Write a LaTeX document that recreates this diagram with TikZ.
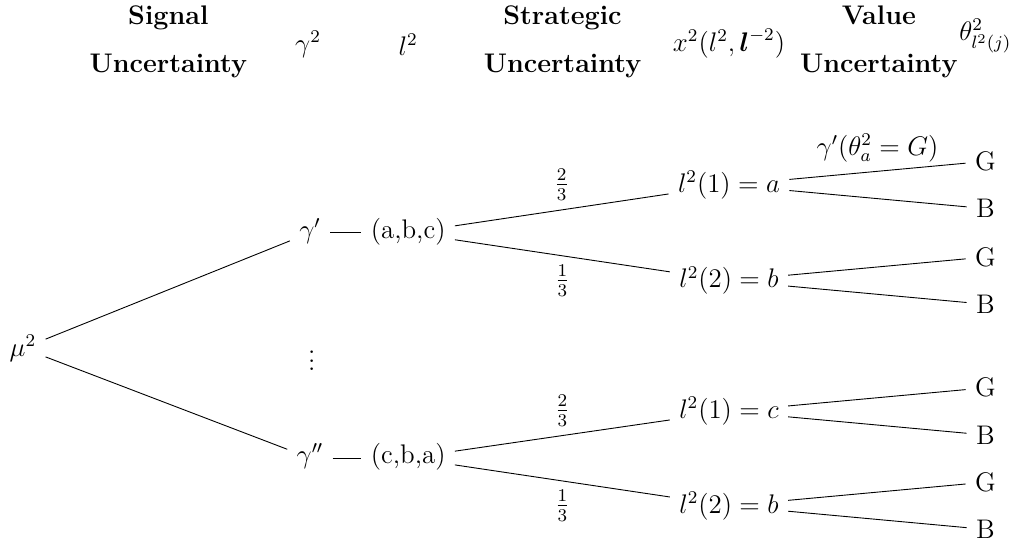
\documentclass[12pt,tikz,border=0pt]{standalone}
\usepackage{amsmath,amssymb}
\usetikzlibrary{positioning}

\begin{document}
\begin{tikzpicture}[
  hdr/.style={font=\bfseries, align=center},
  pair/.style={text height=8pt, text depth=3pt}]
\useasboundingbox (0,0) rectangle (15.93,-8.56);
% Column headers
\node[hdr] (sig) at (2.64,-0.66) {Signal\\[7pt]Uncertainty};
\node (gam) at (4.83,-0.70) {$\gamma^2$};
\node (ell) at (6.40,-0.70) {$l^2$};
\node[hdr] (strat) at (8.82,-0.66) {Strategic\\[7pt]Uncertainty};
\node (act) at (11.43,-0.68) {$x^2(l^2,\boldsymbol{l}^{-2})$};
\node[hdr] (val) at (13.78,-0.66) {Value\\[7pt]Uncertainty};
\node (thet) at (15.45,-0.57) {$\theta^2_{l^2(j)}$};
% Root and signals
\node (mu) at (0.36,-5.46) {$\mu^2$};
\node[pair] (g1) at (4.86,-3.65) {$\gamma'$};
\node[pair] (abc) at (6.40,-3.65) {(a,b,c)};
\node (dots) at (4.89,-5.55) {$\vdots$};
\node[pair] (g2) at (4.86,-7.18) {$\gamma''$};
\node[pair] (cba) at (6.40,-7.18) {(c,b,a)};
\draw (mu) -- (g1);
\draw (mu) -- (g2);
\draw (g1) -- (abc);
\draw (g2) -- (cba);
% Strategic uncertainty
\node (l1a) at (11.43,-2.90) {$l^2(1) = a$};
\node (l2b) at (11.43,-4.40) {$l^2(2) = b$};
\node (l1c) at (11.43,-6.45) {$l^2(1) = c$};
\node (l2d) at (11.43,-7.93) {$l^2(2) = b$};
\draw (abc) -- node[above] {$\frac{2}{3}$} (l1a);
\draw (abc) -- node[below] {$\frac{1}{3}$} (l2b);
\draw (cba) -- node[above] {$\frac{2}{3}$} (l1c);
\draw (cba) -- node[below] {$\frac{1}{3}$} (l2d);
% Value uncertainty
\foreach \p/\y/\n in {l1a/-2.90/1,l2b/-4.40/2,l1c/-6.45/3,l2d/-7.93/4} {
  \node (G\n) at (15.45,\y+0.37) {G};
  \node (B\n) at (15.45,\y-0.37) {B};
  \draw (\p) -- (G\n);
  \draw (\p) -- (B\n);
}
\path (l1a) -- node[above] {$\gamma'(\theta^2_a = G)$} (G1);
\end{tikzpicture}
\end{document}
